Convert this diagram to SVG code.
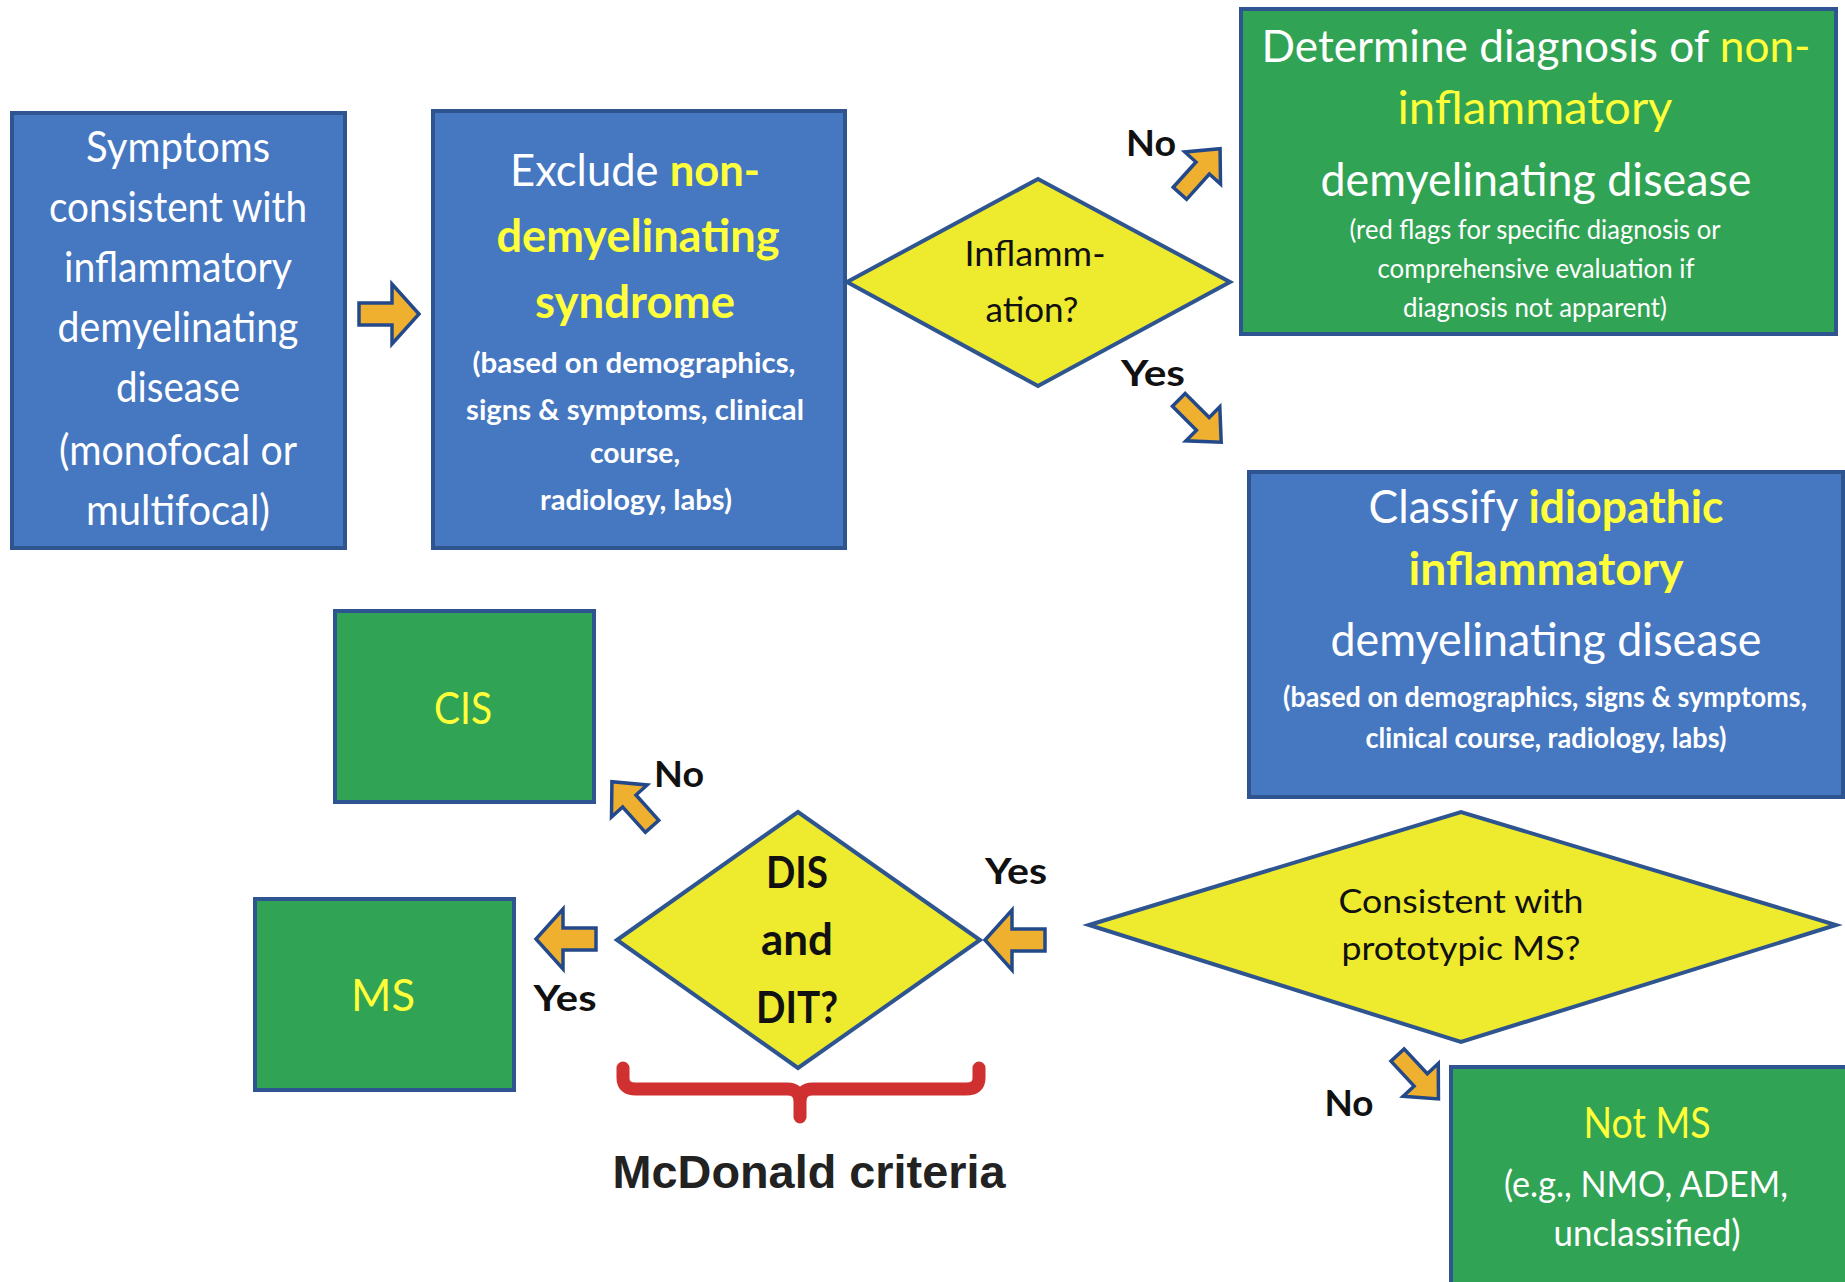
<svg xmlns="http://www.w3.org/2000/svg" width="1845" height="1282" viewBox="0 0 1845 1282">
<defs>
<style>
.blue{fill:#4677c1;stroke:#2e5590;stroke-width:4}
.green{fill:#31a354;stroke:#2e5590;stroke-width:4}
.dia{fill:#eeea2e;stroke:#2e5590;stroke-width:4}
.arw{fill:#efb030;stroke:#24498a;stroke-width:3.5}
.brace{fill:none;stroke:#d0302f;stroke-width:13;stroke-linecap:round;stroke-linejoin:round}
text{font-family:Lato,"Liberation Sans",sans-serif;text-anchor:middle}
.w{fill:#ffffff}
.y{fill:#ffff3a}
.k{fill:#111111}
.b{font-weight:bold}
.lbl{font-weight:bold;font-size:36px;fill:#111111}
</style>
<path id="ah" d="M-30,-11 H3 V-30 L30,0 L3,30 V11 H-30 Z"/>
<path id="ad" d="M-30,-9 H4 V-24 L30,0 L4,24 V9 H-30 Z"/>
</defs>
<rect width="1845" height="1282" fill="#ffffff"/>

<g id="connectors">
<use href="#ah" class="arw" transform="translate(389,314)"/>
<use href="#ad" class="arw" transform="translate(1200,171) rotate(-48)"/>
<use href="#ad" class="arw" transform="translate(1200,421) rotate(45)"/>
<use href="#ad" class="arw" transform="translate(632,804) rotate(-132)"/>
<use href="#ah" class="arw" transform="translate(1015,940) rotate(180)"/>
<use href="#ah" class="arw" transform="translate(566,939) rotate(180)"/>
<use href="#ad" class="arw" transform="translate(1418,1077) rotate(47)"/>
<path class="brace" d="M623,1068 V1078 Q623,1089 636,1089 H787 Q800,1089 800,1102 V1117 M800,1102 Q800,1089 813,1089 H966 Q979,1089 979,1078 V1068"/>
<text x="1151" y="156" class="lbl" textLength="50" lengthAdjust="spacingAndGlyphs">No</text>
<text x="1153" y="386" class="lbl" textLength="64" lengthAdjust="spacingAndGlyphs">Yes</text>
<text x="1016" y="884" class="lbl" textLength="62" lengthAdjust="spacingAndGlyphs">Yes</text>
<text x="565" y="1011" class="lbl" textLength="63" lengthAdjust="spacingAndGlyphs">Yes</text>
<text x="679" y="787" class="lbl" textLength="50" lengthAdjust="spacingAndGlyphs">No</text>
<text x="1349" y="1116" class="lbl" textLength="49" lengthAdjust="spacingAndGlyphs">No</text>
<text x="809" y="1188" style="font-family:'Liberation Sans',Arial,sans-serif;font-weight:bold;font-size:47px;fill:#222" textLength="393" lengthAdjust="spacingAndGlyphs">McDonald criteria</text>
</g>

<g id="symptoms">
<rect class="blue" x="12" y="113" width="333" height="435"/>
<g class="w" font-size="42">
<text x="178" y="162" textLength="184" lengthAdjust="spacingAndGlyphs">Symptoms</text>
<text x="178" y="222" textLength="258" lengthAdjust="spacingAndGlyphs">consistent with</text>
<text x="178" y="282" textLength="228" lengthAdjust="spacingAndGlyphs">inflammatory</text>
<text x="178" y="342" textLength="241" lengthAdjust="spacingAndGlyphs">demyelinating</text>
<text x="178" y="402" textLength="124" lengthAdjust="spacingAndGlyphs">disease</text>
<text x="178" y="465" textLength="238" lengthAdjust="spacingAndGlyphs">(monofocal or</text>
<text x="178" y="525" textLength="184" lengthAdjust="spacingAndGlyphs">multifocal)</text>
</g>
</g>

<g id="exclude">
<rect class="blue" x="433" y="111" width="412" height="437"/>
<text x="635" y="186" font-size="44" class="w" textLength="250" lengthAdjust="spacingAndGlyphs">Exclude <tspan class="y b">non-</tspan></text>
<text x="638" y="252" font-size="46" class="y b" textLength="283" lengthAdjust="spacingAndGlyphs">demyelinating</text>
<text x="635" y="318" font-size="46" class="y b" textLength="200" lengthAdjust="spacingAndGlyphs">syndrome</text>
<g class="w b" font-size="29">
<text x="634" y="373" textLength="323" lengthAdjust="spacingAndGlyphs">(based on demographics,</text>
<text x="635" y="420" textLength="338" lengthAdjust="spacingAndGlyphs">signs &amp; symptoms, clinical</text>
<text x="635" y="463" textLength="90" lengthAdjust="spacingAndGlyphs">course,</text>
<text x="636" y="510" textLength="192" lengthAdjust="spacingAndGlyphs">radiology, labs)</text>
</g>
</g>

<g id="inflammation">
<polygon class="dia" points="847,282 1038,179 1230,282 1038,386"/>
<text x="1035" y="266" font-size="34" class="k" textLength="141" lengthAdjust="spacingAndGlyphs">Inflamm-</text>
<text x="1032" y="322" font-size="34" class="k" textLength="93" lengthAdjust="spacingAndGlyphs">ation?</text>
</g>

<g id="noninflammatory">
<rect class="green" x="1241" y="9" width="595" height="325"/>
<text x="1536" y="62" font-size="44" class="w" textLength="549" lengthAdjust="spacingAndGlyphs">Determine diagnosis of <tspan class="y">non-</tspan></text>
<text x="1535" y="124" font-size="46" class="y" textLength="275" lengthAdjust="spacingAndGlyphs">inflammatory</text>
<text x="1536" y="196" font-size="46" class="w" textLength="431" lengthAdjust="spacingAndGlyphs">demyelinating disease</text>
<g class="w" font-size="26">
<text x="1535" y="239" textLength="371" lengthAdjust="spacingAndGlyphs">(red flags for specific diagnosis or</text>
<text x="1536" y="278" textLength="317" lengthAdjust="spacingAndGlyphs">comprehensive evaluation  if</text>
<text x="1535" y="317" textLength="264" lengthAdjust="spacingAndGlyphs">diagnosis not  apparent)</text>
</g>
</g>

<g id="classify">
<rect class="blue" x="1249" y="472" width="594" height="325"/>
<text x="1546" y="523" font-size="46" class="w" textLength="355" lengthAdjust="spacingAndGlyphs">Classify <tspan class="y b">idiopathic</tspan></text>
<text x="1546" y="585" font-size="46" class="y b" textLength="275" lengthAdjust="spacingAndGlyphs">inflammatory</text>
<text x="1546" y="656" font-size="46" class="w" textLength="431" lengthAdjust="spacingAndGlyphs">demyelinating disease</text>
<g class="w b" font-size="28">
<text x="1545" y="707" textLength="524" lengthAdjust="spacingAndGlyphs">(based on demographics, signs &amp; symptoms,</text>
<text x="1546" y="748" textLength="361" lengthAdjust="spacingAndGlyphs">clinical course, radiology, labs)</text>
</g>
</g>

<g id="prototypic">
<polygon class="dia" points="1089,925 1461,812 1836,925 1461,1042"/>
<text x="1461" y="913" font-size="32" class="k" textLength="245" lengthAdjust="spacingAndGlyphs">Consistent with</text>
<text x="1461" y="960" font-size="32" class="k" textLength="239" lengthAdjust="spacingAndGlyphs">prototypic MS?</text>
</g>

<g id="disdit">
<polygon class="dia" points="617,940 798,812 980,940 798,1068"/>
<g class="k b" font-size="44">
<text x="797" y="888" textLength="62" lengthAdjust="spacingAndGlyphs">DIS</text>
<text x="797" y="955" textLength="72" lengthAdjust="spacingAndGlyphs">and</text>
<text x="797" y="1023" textLength="82" lengthAdjust="spacingAndGlyphs">DIT?</text>
</g>
</g>

<g id="cis">
<rect class="green" x="335" y="611" width="259" height="191"/>
<text x="463" y="724" font-size="44" class="y" textLength="58" lengthAdjust="spacingAndGlyphs">CIS</text>
</g>

<g id="ms">
<rect class="green" x="255" y="899" width="259" height="191"/>
<text x="383" y="1011" font-size="44" class="y" textLength="64" lengthAdjust="spacingAndGlyphs">MS</text>
</g>

<g id="notms">
<rect class="green" x="1451" y="1067" width="400" height="230"/>
<text x="1647" y="1138" font-size="42" class="y" textLength="127" lengthAdjust="spacingAndGlyphs">Not MS</text>
<text x="1646" y="1197" font-size="36" class="w" textLength="284" lengthAdjust="spacingAndGlyphs">(e.g., NMO, ADEM,</text>
<text x="1647" y="1246" font-size="36" class="w" textLength="187" lengthAdjust="spacingAndGlyphs">unclassified)</text>
</g>
</svg>
